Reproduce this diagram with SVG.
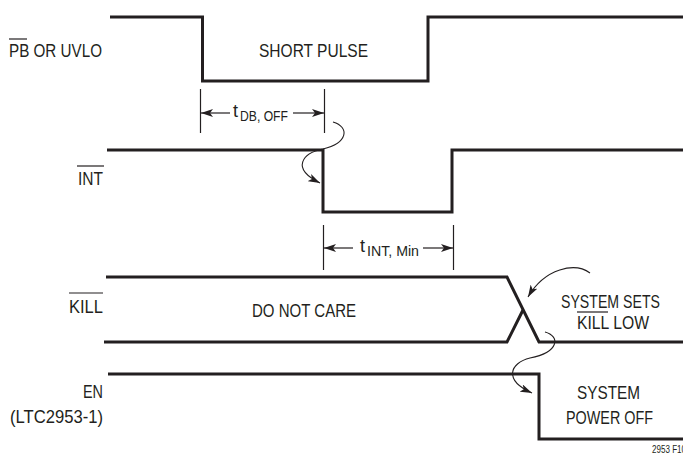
<svg xmlns="http://www.w3.org/2000/svg" width="683" height="455" viewBox="0 0 683 455">
<style>
.w{fill:none;stroke:#231f20;stroke-width:3;stroke-linejoin:miter}
.t{stroke:#231f20;stroke-width:1.2;fill:none}
.c{fill:none;stroke:#231f20;stroke-width:1.1}
.ob{stroke:#231f20;stroke-width:1.2}
text{font-family:"Liberation Sans",Arial,sans-serif;fill:#231f20;font-size:18px}
.s{font-size:14px}
</style>
<defs>
<marker id="ah" viewBox="0 0 12 8" refX="12" refY="4" markerWidth="12" markerHeight="8" markerUnits="userSpaceOnUse" orient="auto">
<path d="M0,0 L12,4 L0,8 L3,4 Z" fill="#231f20"/>
</marker>
</defs>
<g id="pb">
<path class="w" d="M110,17 H202.5 V81 H428 V17 H683"/>
<text x="9" y="57" textLength="93" lengthAdjust="spacingAndGlyphs">PB OR UVLO</text>
<line class="ob" x1="9" y1="39" x2="27" y2="39"/>
<text x="259" y="57" textLength="109" lengthAdjust="spacingAndGlyphs">SHORT PULSE</text>
</g>
<g id="int">
<path class="w" d="M107,150 H323 V212 H452 V150 H683"/>
<text x="78" y="185" textLength="25" lengthAdjust="spacingAndGlyphs">INT</text>
<line class="ob" x1="77" y1="166" x2="104" y2="166"/>
</g>
<g id="kill">
<path class="w" d="M106,277 H507 L539,342 H683"/>
<path class="w" d="M104,342 H507 L523,310"/>
<text x="69" y="313" textLength="34" lengthAdjust="spacingAndGlyphs">KILL</text>
<line class="ob" x1="69" y1="293" x2="103" y2="293"/>
<text x="252" y="317" textLength="104" lengthAdjust="spacingAndGlyphs">DO NOT CARE</text>
<text x="561" y="308" textLength="99" lengthAdjust="spacingAndGlyphs">SYSTEM SETS</text>
<text x="577" y="329" textLength="72" lengthAdjust="spacingAndGlyphs">KILL LOW</text>
<line class="ob" x1="577" y1="312" x2="608" y2="312"/>
</g>
<g id="en">
<path class="w" d="M108,374 H539 V439 H683"/>
<text x="103" y="398" text-anchor="end" textLength="20" lengthAdjust="spacingAndGlyphs">EN</text>
<text x="10" y="423" textLength="93" lengthAdjust="spacingAndGlyphs">(LTC2953-1)</text>
<text x="577" y="399" textLength="63" lengthAdjust="spacingAndGlyphs">SYSTEM</text>
<text x="566" y="424" textLength="87" lengthAdjust="spacingAndGlyphs">POWER OFF</text>
</g>
<g id="tdb">
<line class="t" x1="200.5" y1="89" x2="200.5" y2="133"/>
<line class="t" x1="324.5" y1="89" x2="324.5" y2="133"/>
<line class="t" x1="230" y1="113" x2="201" y2="113" marker-end="url(#ah)"/>
<line class="t" x1="293" y1="113" x2="324" y2="113" marker-end="url(#ah)"/>
<text x="233" y="117">t</text>
<text class="s" x="240" y="121" textLength="48" lengthAdjust="spacingAndGlyphs">DB, OFF</text>
</g>
<g id="tint">
<line class="t" x1="323.5" y1="225" x2="323.5" y2="270"/>
<line class="t" x1="453.5" y1="225" x2="453.5" y2="270"/>
<line class="t" x1="353" y1="248" x2="324" y2="248" marker-end="url(#ah)"/>
<line class="t" x1="423" y1="248" x2="453" y2="248" marker-end="url(#ah)"/>
<text x="360" y="252">t</text>
<text class="s" x="367" y="256" textLength="52" lengthAdjust="spacingAndGlyphs">INT, Min</text>
</g>
<g id="connectors">
<path class="c" d="M333,122 C350,127 348,143 323,149 C303,153 290,168 320,183" marker-end="url(#ah)"/>
<path class="c" d="M590,273 C575,262 545,268 528,297" marker-end="url(#ah)"/>
<path class="c" d="M545,332 C560,336 560,352 530,358 C510,363 503,380 532,393" marker-end="url(#ah)"/>
</g>
<text x="652" y="453" style="font-size:10px" textLength="34" lengthAdjust="spacingAndGlyphs">2953 F10</text>
</svg>
